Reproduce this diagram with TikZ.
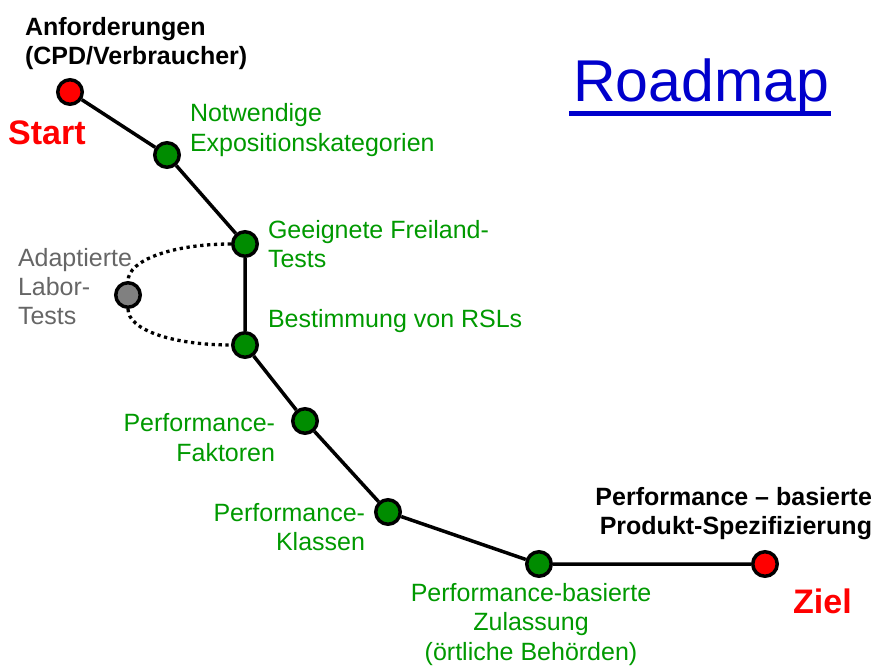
\documentclass[tikz,border=0pt]{standalone}
\usepackage{fontspec}
\setmainfont{Liberation Sans}

\definecolor{stopgreen}{RGB}{0,140,0}
\definecolor{labelgreen}{RGB}{0,153,0}
\definecolor{titleblue}{RGB}{0,0,204}
\definecolor{labelgray}{RGB}{102,102,102}
\definecolor{stopgray}{RGB}{128,128,128}

\begin{document}
\begin{tikzpicture}[x=1pt,y=-1pt,
  stop/.style={circle,draw=black,line width=3.5pt,minimum size=24.5pt,inner sep=0pt},
  route/.style={draw=black,line width=3.5pt},
  labroute/.style={draw=black,line width=3.3pt,dash pattern=on 3.3pt off 3.6pt},
  txt/.style={inner sep=0pt,outer sep=0pt,font=\fontsize{25}{30}\selectfont},
  greentxt/.style={txt,text=labelgreen},
  headtxt/.style={inner sep=0pt,outer sep=0pt,font=\bfseries\fontsize{25}{29}\selectfont,text=black},
  bigred/.style={inner sep=0pt,font=\bfseries\fontsize{34}{40}\selectfont,text=red}
]
\useasboundingbox (0,0) rectangle (877,666);

% stops along the road
\node[stop,fill=red]       (start) at (70,92)   {};
\node[stop,fill=stopgreen] (s1)    at (167,155) {};
\node[stop,fill=stopgreen] (s2)    at (245,244) {};
\node[stop,fill=stopgreen] (s3)    at (245,345) {};
\node[stop,fill=stopgray]  (lab)   at (128,295) {};
\node[stop,fill=stopgreen] (s4)    at (305,421) {};
\node[stop,fill=stopgreen] (s5)    at (388,512) {};
\node[stop,fill=stopgreen] (s6)    at (539,564) {};
\node[stop,fill=red]       (goal)  at (765,564) {};

% the road
\draw[route] (start) -- (s1) -- (s2) -- (s3) -- (s4) -- (s5) -- (s6) -- (goal);

% detour through the lab tests
\draw[labroute] (s2.west) .. controls +(-58,0) and +(0,-21) .. (lab.north);
\draw[labroute] (lab.south) .. controls +(0,21) and +(-58,0) .. (s3.west);

% title
\node[inner sep=0pt,font=\fontsize{59}{66}\selectfont,text=titleblue,anchor=base west]
  (title) at (573,102) {Roadmap};
\draw[titleblue,line width=5pt]
  ([xshift=-4pt,yshift=-12pt]title.base west) -- ([xshift=2pt,yshift=-12pt]title.base east);

% start and goal
\node[headtxt,align=left,anchor=north west] (req) at (25,17)
  {Anforderungen\\(CPD/Verbraucher)};
\node[bigred,anchor=base west] (startlbl) at (8,144) {Start};
\node[headtxt,align=right,anchor=north east] (spec) at (872,487)
  {Performance – basierte\\Produkt-Spezifizierung};
\node[bigred,anchor=base west] (goallbl) at (793,613) {Ziel};

% milestone labels
\node[greentxt,align=left,anchor=north west] (l1) at (190,103)
  {Notwendige\\Expositionskategorien};
\node[greentxt,align=left,anchor=north west,font=\fontsize{25}{29}\selectfont] (l2) at (268,220)
  {Geeignete Freiland-\\Tests};
\node[greentxt,anchor=base west] (l3) at (268,327) {Bestimmung von RSLs};
\node[txt,text=labelgray,align=left,anchor=north west,font=\fontsize{25}{29}\selectfont] (llab) at (18,248)
  {Adaptierte\\Labor-\\Tests};
\node[greentxt,align=right,anchor=north east] (l4) at (275,413)
  {Performance-\\Faktoren};
\node[greentxt,align=right,anchor=north east,font=\fontsize{25}{29}\selectfont] (l5) at (365,503)
  {Performance-\\Klassen};
\node[greentxt,align=center,anchor=north,font=\fontsize{25}{29.5}\selectfont] (l6) at (531,583)
  {Performance-basierte\\Zulassung\\(örtliche Behörden)};
\end{tikzpicture}
\end{document}
